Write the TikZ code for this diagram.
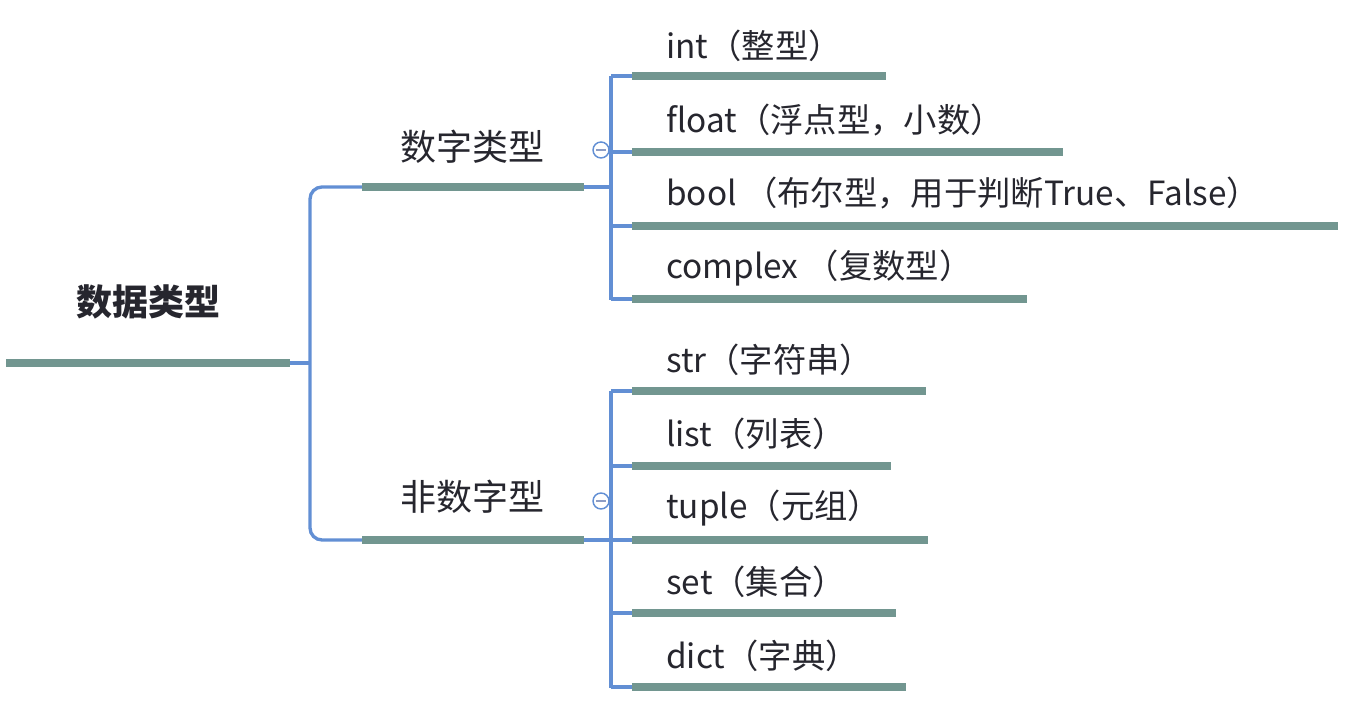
\documentclass[tikz,border=0pt]{standalone}
\usepackage{fontspec}
\setmainfont{Noto Sans CJK SC}
\definecolor{barcolor}{HTML}{729690}
\definecolor{linkcolor}{HTML}{628FD4}
\definecolor{txtcolor}{HTML}{26262E}
\definecolor{minuscolor}{HTML}{8C9CC4}
\tikzset{
  bar/.style={draw=barcolor, line width=5.8pt},
  link/.style={draw=linkcolor, line width=2.5pt},
  leaf/.style={anchor=west, inner sep=0pt, text=txtcolor, font=\fontsize{25}{29}\selectfont},
  topic/.style={inner sep=0pt, text=txtcolor, font=\fontsize{27}{31}\selectfont},
  fold/.style={circle, draw=linkcolor, line width=1.1pt, fill=white, minimum size=12pt, inner sep=0pt}
}
\begin{document}
\begin{tikzpicture}[x=0.75pt, y=-0.75pt]
        \useasboundingbox (0,0) rectangle (1350,712);

        % root
        \node[topic, font=\fontsize{27}{31}\selectfont\bfseries] (root) at (148,302) {数据类型};
        \coordinate (rootL) at (6,363);
        \coordinate (rootR) at (290,363);
        \coordinate (fork) at (310,363);

        % second level
        \node[topic] (num) at (472,147) {数字类型};
        \node[topic] (nonnum) at (472,497) {非数字型};
        \coordinate (numL) at (362,187);
        \coordinate (numR) at (584,187);
        \coordinate (numJ) at (611,187);
        \coordinate (nonL) at (362,540);
        \coordinate (nonR) at (584,540);
        \coordinate (nonJ) at (611,540);

        \draw[link] (rootR) -- (fork);
        \draw[link, rounded corners=9pt] (numL) -| (fork) |- (nonL);
        \draw[link] (numR) -- (numJ);
        \draw[link] (nonR) -- (632,540);

        % numeric children
        \draw[link] (611,76) -- (611,300);
        \draw[link] (611,76) -- (632,76);
        \draw[link] (611,152) -- (632,152);
        \draw[link] (611,226) -- (632,226);
        \draw[link] (611,299) -- (632,299);
        \node[leaf] (int) at (666,46) {int（整型）};
        \node[leaf] (float) at (666,120) {float（浮点型，小数）};
        \node[leaf] (bool) at (666,193) {bool （布尔型，用于判断True、False）};
        \node[leaf] (complex) at (666,268) {complex （复数型）};
        \draw[bar] (632,76) -- (886,76);
        \draw[bar] (632,152) -- (1063,152);
        \draw[bar] (632,226) -- (1338,226);
        \draw[bar] (632,299) -- (1027,299);

        % non-numeric children
        \draw[link] (611,391) -- (611,688);
        \draw[link] (611,391) -- (632,391);
        \draw[link] (611,466) -- (632,466);
        \draw[link] (611,613) -- (632,613);
        \draw[link] (611,687) -- (632,687);
        \node[leaf] (str) at (666,360) {str（字符串）};
        \node[leaf] (list) at (666,434) {list（列表）};
        \node[leaf] (tuple) at (666,508) {tuple（元组）};
        \node[leaf] (set) at (666,582) {set（集合）};
        \node[leaf] (dict) at (666,656) {dict（字典）};
        \draw[bar] (632,391) -- (926,391);
        \draw[bar] (632,466) -- (891,466);
        \draw[bar] (632,540) -- (928,540);
        \draw[bar] (632,613) -- (896,613);
        \draw[bar] (632,687) -- (906,687);

        % bars of root and second level
        \draw[bar] (rootL) -- (rootR);
        \draw[bar] (numL) -- (numR);
        \draw[bar] (nonL) -- (nonR);

        % fold buttons
        \node[fold] (foldnum) at (601,150) {};
        \draw[minuscolor, line width=1.1pt] ([xshift=-3.5pt]foldnum.center) -- ([xshift=3.5pt]foldnum.center);
        \node[fold] (foldnon) at (601,501) {};
        \draw[minuscolor, line width=1.1pt] ([xshift=-3.5pt]foldnon.center) -- ([xshift=3.5pt]foldnon.center);
    \end{tikzpicture}
\end{document}
